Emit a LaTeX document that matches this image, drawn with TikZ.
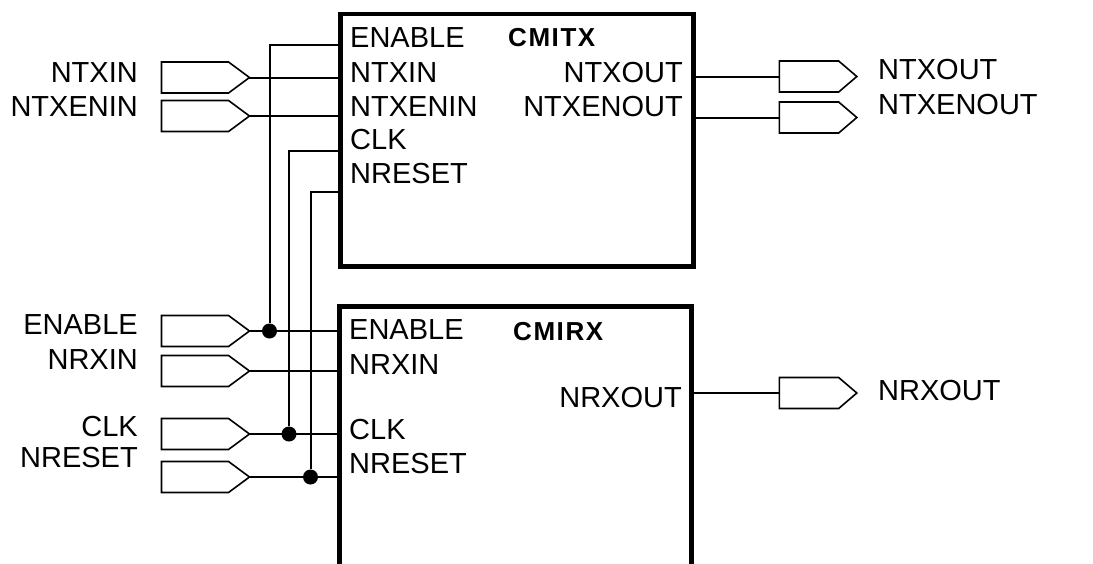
\documentclass[tikz,border=0pt]{standalone}
\usepackage{fontspec}
\setmainfont{Liberation Sans}
\usetikzlibrary{shapes.symbols, positioning, calc}
\tikzset{
    % Block and port styles
    block/.style={
        rectangle,
        draw=black,
        line width=4.8pt,
        outer sep=0pt,
        inner sep=0pt
    },
    pin label/.style={
        inner sep=0pt,
        font=\fontsize{29}{32}\selectfont
    },
    title label/.style={
        inner sep=0pt,
        font=\fontsize{26}{30}\selectfont\bfseries\addfontfeature{LetterSpace=6}
    },
    port in/.style={
        shape=signal,
        signal to=east,
        signal pointer angle=73,
        draw=black,
        line width=1.6pt,
        minimum width=88pt,
        minimum height=31pt,
        inner sep=0pt,
        outer sep=0pt
    },
    port out/.style={
        port in,
        signal pointer angle=81,
        minimum width=77.5pt
    },
    wire/.style={
        line width=2pt,
        black
    },
    junction/.style={
        circle,
        fill=black,
        inner sep=0pt,
        minimum size=15pt
    }
}
\begin{document}
\begin{tikzpicture}[x=1pt, y=-1pt]
        \useasboundingbox (0,0) rectangle (1093,563);

        % CMITX block
        \node[block, minimum width=352.8pt, minimum height=252.5pt] (tx) at (517,140.25) {};
        \node[title label, anchor=west] (tx_title) at (508,37.5) {CMITX};
        \node[pin label, anchor=west] (tx_en_lbl) at (350,38) {ENABLE};
        \node[pin label, anchor=west] (tx_ntxin_lbl) at (350,72.5) {NTXIN};
        \node[pin label, anchor=west] (tx_ntxenin_lbl) at (350,107) {NTXENIN};
        \node[pin label, anchor=west] (tx_clk_lbl) at (350,140) {CLK};
        \node[pin label, anchor=west] (tx_nreset_lbl) at (350,173.5) {NRESET};
        \node[pin label, anchor=east] (tx_ntxout_lbl) at (683,73) {NTXOUT};
        \node[pin label, anchor=east] (tx_ntxenout_lbl) at (683,107) {NTXENOUT};
        \coordinate (tx_en) at (340.5,45);
        \coordinate (tx_clk) at (340.5,151);
        \coordinate (tx_nreset) at (340.5,192);

        % CMIRX block (runs off the bottom)
        \node[minimum width=352.2pt, minimum height=270pt, inner sep=0pt, outer sep=0pt] (rx) at (515.75,441.8) {};
        \draw[line width=4.8pt] (rx.south west) -- (rx.north west) -- (rx.north east) -- (rx.south east);
        \node[title label, anchor=west] (rx_title) at (513,332) {CMIRX};
        \node[pin label, anchor=west] (rx_en_lbl) at (349,330) {ENABLE};
        \node[pin label, anchor=west] (rx_nrxin_lbl) at (349,365) {NRXIN};
        \node[pin label, anchor=west] (rx_clk_lbl) at (349,430) {CLK};
        \node[pin label, anchor=west] (rx_nreset_lbl) at (349,463.5) {NRESET};
        \node[pin label, anchor=east] (rx_nrxout_lbl) at (682,397.5) {NRXOUT};

        % Input ports
        \node[port in] (in_ntxin) at (195,77.5) {};
        \node[port in] (in_ntxenin) at (195,116) {};
        \node[port in] (in_en) at (195,331) {};
        \node[port in] (in_nrxin) at (195,371) {};
        \node[port in] (in_clk) at (195,434) {};
        \node[port in] (in_nreset) at (195,477) {};
        \node[pin label, anchor=east] (ntxin_lbl) at (138,73) {NTXIN};
        \node[pin label, anchor=east] (ntxenin_lbl) at (138,107) {NTXENIN};
        \node[pin label, anchor=east] (en_lbl) at (138,325) {ENABLE};
        \node[pin label, anchor=east] (nrxin_lbl) at (138,360) {NRXIN};
        \node[pin label, anchor=east] (clk_lbl) at (138,426.5) {CLK};
        \node[pin label, anchor=east] (nreset_lbl) at (138,458) {NRESET};

        % Output ports
        \node[port out] (out_ntxout) at (809,76.5) {};
        \node[port out] (out_ntxenout) at (809,117.5) {};
        \node[port out] (out_nrxout) at (809,393) {};
        \node[pin label, anchor=west] (ntxout_lbl) at (878,70) {NTXOUT};
        \node[pin label, anchor=west] (ntxenout_lbl) at (878,105) {NTXENOUT};
        \node[pin label, anchor=west] (nrxout_lbl) at (878,391) {NRXOUT};

        % Junctions
        \node[junction] (dot_en) at (269.5,331) {};
        \node[junction] (dot_clk) at (289,434) {};
        \node[junction] (dot_nreset) at (310.5,477) {};

        % Wires
        \draw[wire] (in_ntxin.east) -- (in_ntxin.east -| tx.west);
        \draw[wire] (in_ntxenin.east) -- (in_ntxenin.east -| tx.west);
        \draw[wire] (in_en.east) -- (in_en.east -| rx.west);
        \draw[wire] (in_nrxin.east) -- (in_nrxin.east -| rx.west);
        \draw[wire] (in_clk.east) -- (in_clk.east -| rx.west);
        \draw[wire] (in_nreset.east) -- (in_nreset.east -| rx.west);
        \draw[wire] (dot_en) |- (tx_en);
        \draw[wire] (dot_clk) |- (tx_clk);
        \draw[wire] (dot_nreset) |- (tx_nreset);
        \draw[wire] (tx.east |- out_ntxout.west) -- (out_ntxout.west);
        \draw[wire] (tx.east |- out_ntxenout.west) -- (out_ntxenout.west);
        \draw[wire] (rx.east |- out_nrxout.west) -- (out_nrxout.west);
    \end{tikzpicture}
\end{document}
